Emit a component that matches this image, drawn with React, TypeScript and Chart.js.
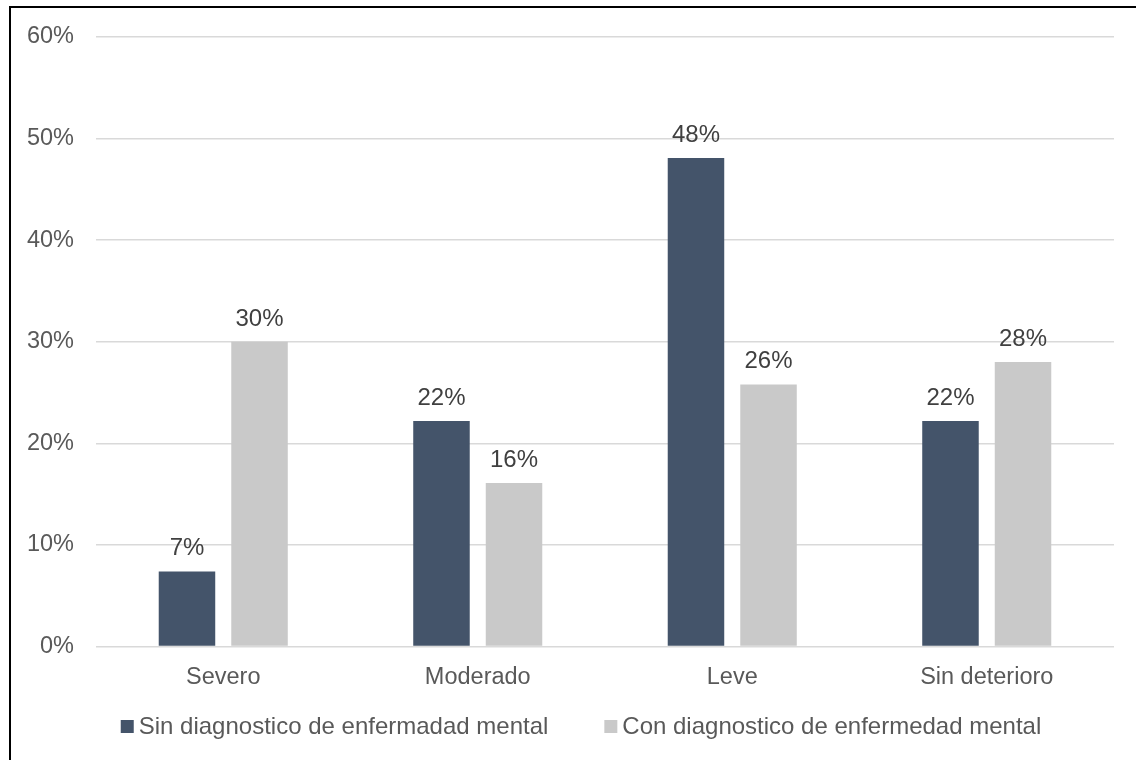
import { useEffect, useRef } from "react";
import { Chart, registerables } from "chart.js";

Chart.register(...registerables);

// Data
const categories = ["Severo", "Moderado", "Leve", "Sin deterioro"];
const seriesNames = [
  "Sin diagnostico de enfermadad mental",
  "Con diagnostico de enfermedad mental",
];
const sinDiagnostico = [7.4, 22.2, 48.1, 22.2];
const conDiagnostico = [30.0, 16.1, 25.8, 28.0];
const yTicks = [0, 10, 20, 30, 40, 50, 60];

const FONT = "'Liberation Sans', Arial, sans-serif";
const DARK = "#44546A";
const LIGHT = "#C9C9C9";

// Percent labels above every bar
const valueLabels = {
  id: "valueLabels",
  afterDatasetsDraw(chart: any) {
    const ctx = chart.ctx;
    ctx.save();
    ctx.font = `24px ${FONT}`;
    ctx.fillStyle = "#404040";
    ctx.textAlign = "center";
    ctx.textBaseline = "alphabetic";
    chart.data.datasets.forEach((ds: any, i: number) => {
      const meta = chart.getDatasetMeta(i);
      meta.data.forEach((bar: any, j: number) => {
        const v = ds.data[j] as number;
        ctx.fillText(`${Math.round(v)}%`, bar.x, bar.y - 16);
      });
    });
    ctx.restore();
  },
};

// Legend row under the category axis, tight square swatches
const bottomLegend = {
  id: "bottomLegend",
  afterDraw(chart: any) {
    const ctx = chart.ctx;
    ctx.save();
    ctx.font = `24px ${FONT}`;
    const box = 13;
    const textGap = 5;
    const itemGap = 56;
    const items = chart.data.datasets.map((ds: any) => ({
      label: ds.label as string,
      color: ds.backgroundColor as string,
      w: ctx.measureText(ds.label).width,
    }));
    const total =
      items.reduce((s: number, it: any) => s + box + textGap + it.w, 0) +
      itemGap * (items.length - 1);
    let x = 581 - total / 2;
    const y = 726.5;
    ctx.textAlign = "left";
    ctx.textBaseline = "middle";
    for (const it of items) {
      ctx.fillStyle = it.color;
      ctx.fillRect(x, y - box / 2, box, box);
      ctx.fillStyle = "#595959";
      ctx.fillText(it.label, x + box + textGap, y + 1);
      x += box + textGap + it.w + itemGap;
    }
    ctx.restore();
  },
};

export default function App() {
  const canvasRef = useRef<HTMLCanvasElement | null>(null);

  useEffect(() => {
    if (!canvasRef.current) return;
    const chart = new Chart(canvasRef.current, {
      type: "bar",
      data: {
        labels: categories,
        datasets: [
          {
            label: seriesNames[0],
            data: sinDiagnostico,
            backgroundColor: DARK,
            categoryPercentage: 0.57,
            barPercentage: 0.779,
          },
          {
            label: seriesNames[1],
            data: conDiagnostico,
            backgroundColor: LIGHT,
            categoryPercentage: 0.57,
            barPercentage: 0.779,
          },
        ],
      },
      options: {
        responsive: false,
        animation: false,
        layout: { padding: { top: 37, right: 22, left: 0, bottom: 0 } },
        plugins: {
          legend: { display: false },
          tooltip: { enabled: false },
        },
        scales: {
          x: {
            grid: { display: false, drawTicks: false },
            border: { display: false },
            ticks: {
              color: "#595959",
              font: { family: FONT, size: 23.5 },
              padding: 16.5,
            },
            afterFit(scale: any) {
              scale.height = 113.4;
            },
          },
          y: {
            min: yTicks[0],
            max: yTicks[yTicks.length - 1],
            ticks: {
              stepSize: yTicks[1] - yTicks[0],
              color: "#595959",
              font: { family: FONT, size: 23.5 },
              padding: 22,
              callback: (v: any) => `${v}%`,
            },
            grid: { color: "#D9D9D9", lineWidth: 1.5, drawTicks: false },
            border: { display: false },
            afterFit(scale: any) {
              scale.width = 96;
            },
          },
        },
      },
      plugins: [valueLabels, bottomLegend],
    });
    return () => chart.destroy();
  }, []);

  return (
    <div style={{ position: "fixed", left: 0, top: 0, width: 1136, height: 760, background: "#fff" }}>
      <div
        style={{
          position: "absolute",
          left: 9,
          top: 6,
          width: 1200,
          height: 800,
          border: "2px solid #000",
          boxSizing: "border-box",
        }}
      />
      <canvas
        ref={canvasRef}
        width={1136}
        height={760}
        style={{ position: "absolute", left: 0, top: 0 }}
      />
    </div>
  );
}
